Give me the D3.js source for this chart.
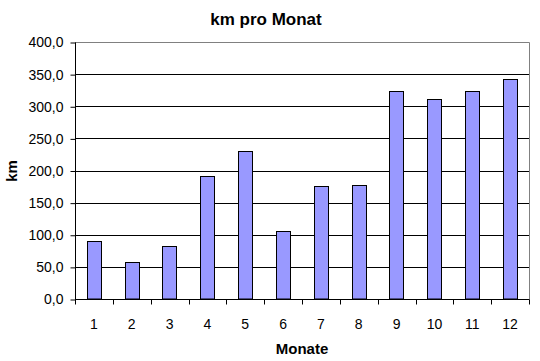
<!DOCTYPE html>
<html><head><meta charset="utf-8">
<script src="https://cdn.jsdelivr.net/npm/d3@7"></script>
<style>body{margin:0;background:#fff}svg{display:block;font-family:"Liberation Sans",Arial,sans-serif}</style>
</head><body>
<svg id="c" width="540" height="361"></svg>
<script>
const months = ["1","2","3","4","5","6","7","8","9","10","11","12"];
const km = [91, 57, 82, 191, 231, 106, 176, 178, 323, 311, 323, 342];
const yTicks = [0, 50, 100, 150, 200, 250, 300, 350, 400];

const svg = d3.select("#c");
const L = 75, R = 529, T = 42, B = 299;
const x = d3.scaleBand().domain(months).range([L, R]).padding(0);
const y = d3.scaleLinear().domain([0, 400]).range([B, T]);
const fmt = v => d3.format(".1f")(v).replace(".", ",");

// gridlines
svg.append("g").selectAll("line").data(yTicks.slice(1, -1)).join("line")
  .attr("x1", L).attr("x2", R).attr("y1", d => Math.round(y(d)) + 0.5).attr("y2", d => Math.round(y(d)) + 0.5)
  .attr("stroke", "#000").attr("stroke-width", 1);
// plot border top/right
svg.append("path").attr("d", `M${L},${T + 0.5}H${R + 0.5}V${B}`).attr("fill", "none").attr("stroke", "#808080");

// bars
const bw = x.bandwidth() * 0.38;
svg.append("g").selectAll("rect").data(months).join("rect")
  .attr("x", (d) => Math.round(x(d) + x.bandwidth() / 2 - bw / 2) + 0.5)
  .attr("width", Math.round(bw))
  .attr("y", (d, i) => Math.round(y(km[i])) + 0.5)
  .attr("height", (d, i) => B - Math.round(y(km[i])) - 0.5)
  .attr("fill", "#9999FF").attr("stroke", "#000").attr("stroke-width", 1);

// y axis
const ya = d3.axisLeft(y).tickValues(yTicks).tickFormat(fmt).tickSize(5).tickPadding(7);
const yg = svg.append("g").attr("transform", `translate(${L + 0.5},0.5)`).call(ya);
yg.selectAll("text").attr("font-size", 14).attr("fill", "#000").attr("font-family", "Liberation Sans, Arial, sans-serif");
yg.selectAll("line,path").attr("stroke", "#000");
yg.select(".domain").attr("d", `M0,${T}V${B}`);

// x axis
const xa = d3.axisBottom(x).tickSize(0).tickPadding(20);
const xg = svg.append("g").attr("transform", `translate(0,${B + 0.5})`).call(xa);
xg.selectAll("text").attr("font-size", 14).attr("fill", "#000").attr("font-family", "Liberation Sans, Arial, sans-serif");
xg.select(".domain").attr("stroke", "#000").attr("d", `M${L},0H${R + 0.5}`);
xg.append("g").selectAll("line").data(d3.range(months.length + 1)).join("line")
  .attr("x1", i => Math.round(L + i * x.step()) + 0.5).attr("x2", i => Math.round(L + i * x.step()) + 0.5)
  .attr("y1", 0).attr("y2", 5).attr("stroke", "#000");

// titles
svg.append("text").attr("x", 266).attr("y", 25).attr("text-anchor", "middle")
  .attr("font-size", 17).attr("font-weight", "bold").text("km pro Monat");
svg.append("text").attr("x", 302).attr("y", 354).attr("text-anchor", "middle")
  .attr("font-size", 15).attr("font-weight", "bold").text("Monate");
svg.append("text").attr("transform", "translate(17,171) rotate(-90)").attr("text-anchor", "middle")
  .attr("font-size", 15).attr("font-weight", "bold").text("km");
</script>
</body></html>
